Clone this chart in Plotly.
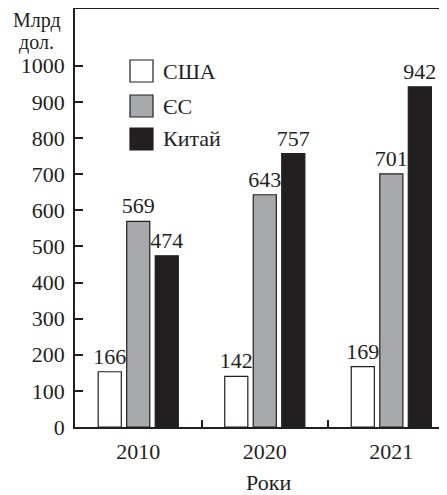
import plotly.graph_objects as go

years = ["2010", "2020", "2021"]
usa_bar = [153, 140, 167]
usa_labels = [166, 142, 169]
eu_vals = [569, 643, 701]
china_vals = [474, 757, 942]
y_ticks = list(range(0, 1001, 100))
series_names = ["США", "ЄС", "Китай"]

FONT = "Liberation Serif"
FS = 22
HFS = 20
INK = "#231f20"
GRAY = "#a7a9ac"
# page has an 8px body margin; compensate so the plot sits where the reference has it
OFF = 8
W, H = 447 - OFF, 495 - OFF
PL, PT, PB, PR = 75, 9, 427, 447  # plot area in page pixels
L, T = PL - OFF, PT - OFF
B = H - (PB - OFF)
R = 0
pw, ph = PR - PL, PB - PT

fig = go.Figure()
fills = ["white", GRAY, INK]
vals = [usa_bar, eu_vals, china_vals]
labels = [usa_labels, eu_vals, china_vals]
for name, v, lab, c in zip(series_names, vals, labels, fills):
    fig.add_trace(go.Bar(
        x=years, y=v, name=name, text=[str(t) for t in lab],
        textposition="outside", cliponaxis=False, constraintext="none",
        textfont=dict(family=FONT, size=FS, color=INK),
        marker=dict(color=c, line=dict(color=INK, width=1.2)),
        showlegend=False,
    ))

def px_x(x):
    return (x - PL) / pw

def px_y(y):
    return (PB - y) / ph

shapes = []
annotations = []
rows = [71, 106, 139]
for name, c, yc in zip(series_names, fills, rows):
    shapes.append(dict(type="rect", xref="paper", yref="paper",
                       x0=px_x(130), x1=px_x(153), y0=px_y(yc + 11), y1=px_y(yc - 11),
                       fillcolor=c, line=dict(color=INK, width=1.2)))
    annotations.append(dict(xref="paper", yref="paper", x=px_x(161), y=px_y(yc),
                            text=name, showarrow=False, xanchor="left", yanchor="middle",
                            font=dict(family=FONT, size=FS, color=INK)))

annotations.append(dict(xref="paper", yref="paper", x=px_x(37), y=px_y(20.5),
                        text="Млрд", showarrow=False, xanchor="center", yanchor="middle",
                        borderpad=0,
                        font=dict(family=FONT, size=HFS, color=INK)))
annotations.append(dict(xref="paper", yref="paper", x=px_x(36), y=px_y(42.5),
                        text="дол.", showarrow=False, xanchor="center", yanchor="middle",
                        borderpad=0,
                        font=dict(family=FONT, size=HFS, color=INK)))
annotations.append(dict(xref="paper", yref="paper", x=px_x(268), y=px_y(482),
                        text="Роки", showarrow=False, xanchor="center", yanchor="middle",
                        font=dict(family=FONT, size=FS, color=INK)))

fig.update_layout(
    width=W, height=H,
    margin=dict(l=L, r=R, t=T, b=B, pad=0),
    paper_bgcolor="white", plot_bgcolor="white",
    barmode="group", bargap=0.324, bargroupgap=0.19,
    font=dict(family=FONT, size=FS, color=INK),
    shapes=shapes, annotations=annotations,
    showlegend=False,
)
fig.update_xaxes(
    type="category", range=[-0.5, 2.44],
    showline=True, linecolor=INK, linewidth=1.5, mirror=True,
    ticks="inside", tickson="boundaries", ticklen=7, tickcolor=INK, tickwidth=1.5,
    showgrid=False, zeroline=False,
    ticklabelstandoff=4,
    tickfont=dict(family=FONT, size=FS, color=INK),
)
fig.update_yaxes(
    range=[0, 1160 * (PB - PT) / 419], tickvals=y_ticks,
    showline=True, linecolor=INK, linewidth=1.5,
    ticks="inside", ticklen=8, tickcolor=INK, tickwidth=1.5,
    showgrid=False, zeroline=False,
    ticklabelstandoff=4,
    tickfont=dict(family=FONT, size=FS, color=INK),
)

fig.write_html("out.html")
